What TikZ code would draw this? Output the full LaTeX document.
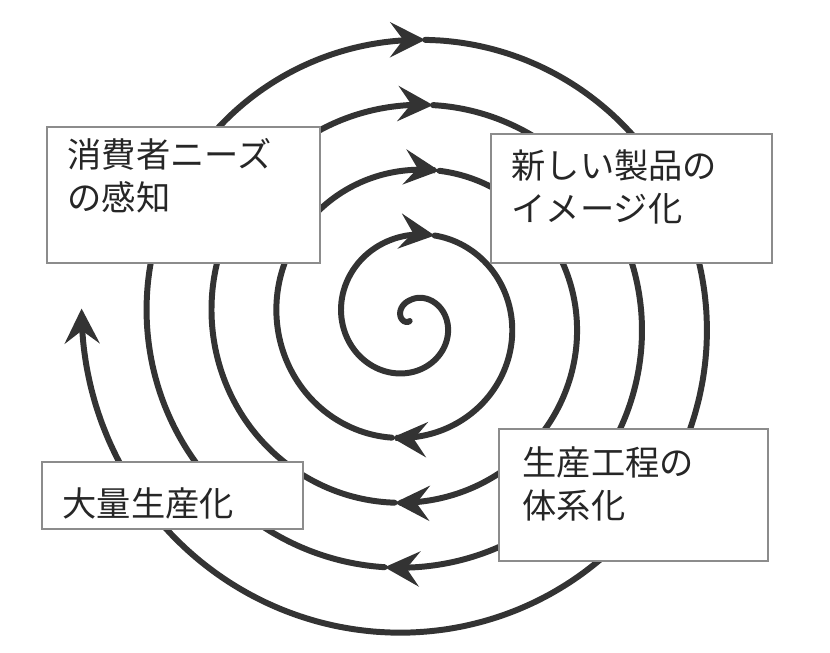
\documentclass[tikz,border=0pt]{standalone}
\usepackage{fontspec}
\setmainfont{Noto Sans CJK JP}
\usetikzlibrary{arrows.meta,positioning}
\tikzstyle{spiral}=[line width=3.4pt,draw=black!80,line cap=round,-{Stealth[length=7mm,width=7mm,inset=2.6mm]}]
\tikzstyle{stage}=[rectangle,draw=black!45,line width=0.8pt,fill=white,inner sep=0pt]
\tikzstyle{stagetext}=[anchor=north west,align=left,inner sep=0pt,text=black!85,font=\fontsize{19.5pt}{24.5pt}\selectfont]

\begin{document}
\begin{tikzpicture}[declare function={spr(\t)=(\t<0)?(0.4+0.002667*\t):(0.4+1.3*\t/360);}]
\useasboundingbox (0,0) rectangle (16.6,13.04);
% one spiral, cut at every arrow
\foreach \a/\b in {-140/376,376/549,549/731,731/905,905/1086,1086/1266,1266/1443,1443/1712}
  \draw[spiral] plot[smooth,samples=80,domain=\a:\b] ({8.21+spr(\x)*sin(\x)},{6.64+spr(\x)*cos(\x)});
\node[stage,minimum width=5.46cm,minimum height=2.72cm] (N) at (3.67,9.14) {};
\node[stage,minimum width=5.62cm,minimum height=2.58cm] (I) at (12.63,9.07) {};
\node[stage,minimum width=5.22cm,minimum height=1.34cm] (M) at (3.45,3.13) {};
\node[stage,minimum width=5.38cm,minimum height=2.64cm] (S) at (12.67,3.14) {};
\node[stagetext] (Nt) at ([xshift=4.2mm,yshift=-2.4mm]N.north west) {消費者ニーズ\\の感知};
\node[stagetext] (It) at ([xshift=4.2mm,yshift=-3.2mm]I.north west) {新しい製品の\\イメージ化};
\node[stagetext] (Mt) at ([xshift=4.2mm,yshift=-5.2mm]M.north west) {大量生産化};
\node[stagetext] (St) at ([xshift=4.8mm,yshift=-3.6mm]S.north west) {生産工程の\\体系化};
\end{tikzpicture}
\end{document}
